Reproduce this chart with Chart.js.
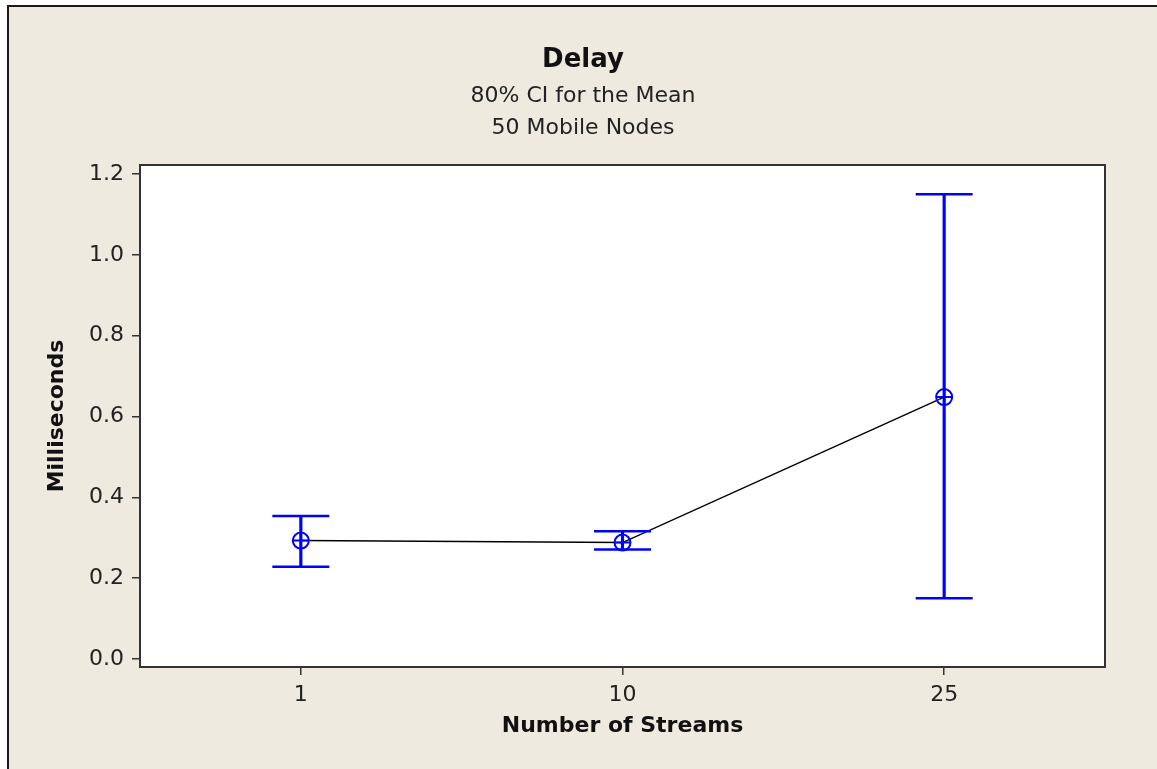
<!DOCTYPE html>
<html>
<head>
<meta charset="utf-8">
<script src="https://cdn.jsdelivr.net/npm/chart.js@4/dist/chart.umd.min.js"></script>
<style>
    body { margin: 0; background: #ffffff; }
    #wrap {
        position: absolute; left: 7px; top: 5px;
        width: 1150px; height: 764px;
        box-sizing: border-box;
        border-left: 2px solid #1a1a1a;
        border-top: 2px solid #1a1a1a;
        background: #eeeae0;
    }
    #chart { display: block; }
</style>
</head>
<body>
<div id="wrap"><canvas id="chart" width="1148" height="762"></canvas></div>
<script>
// Categories and the values
const streams = ['1', '10', '25'];
const meanDelay = [0.293, 0.288, 0.648];
const ciLower = [0.228, 0.271, 0.150];
const ciUpper = [0.354, 0.316, 1.150];
const yTicks = [0.0, 0.2, 0.4, 0.6, 0.8, 1.0, 1.2];

const blue = '#0000ff';
const fontName = '"DejaVu Sans", Verdana, sans-serif';

// Draw the box round the plot area
const frameBox = {
    id: 'frameBox',
    afterDraw(chart) {
        const { ctx, chartArea: a } = chart;
        ctx.save();
        ctx.strokeStyle = '#333333';
        ctx.lineWidth = 2;
        ctx.strokeRect(a.left, a.top, a.right - a.left, a.bottom - a.top);
        ctx.restore();
    }
};

// White plot area
const plotBg = {
    id: 'plotBg',
    beforeDraw(chart) {
        const { ctx, chartArea: a } = chart;
        ctx.save();
        ctx.fillStyle = '#ffffff';
        ctx.fillRect(a.left, a.top, a.right - a.left, a.bottom - a.top);
        ctx.restore();
    }
};

const ctx = document.getElementById('chart').getContext('2d');

new Chart(ctx, {
    type: 'line',
    data: {
        labels: streams,
        datasets: [
            {
                // line through the means
                label: 'mean line',
                data: meanDelay,
                borderColor: '#000000',
                borderWidth: 1.5,
                pointRadius: 0,
                tension: 0,
                order: 3
            },
            {
                // vertical part of the interval
                type: 'bar',
                label: 'ci',
                data: streams.map((s, i) => [ciLower[i], ciUpper[i]]),
                backgroundColor: blue,
                borderWidth: 0,
                barThickness: 2.5,
                order: 4
            },
            {
                label: 'upper cap',
                data: ciUpper,
                showLine: false,
                pointStyle: 'line',
                pointRadius: 28.5,
                pointBorderWidth: 2.5,
                pointBorderColor: blue,
                order: 2
            },
            {
                label: 'lower cap',
                data: ciLower,
                showLine: false,
                pointStyle: 'line',
                pointRadius: 28.5,
                pointBorderWidth: 2.5,
                pointBorderColor: blue,
                order: 2
            },
            {
                label: 'mean circle',
                data: meanDelay,
                showLine: false,
                pointStyle: 'circle',
                pointRadius: 8,
                pointBorderWidth: 2,
                pointBorderColor: blue,
                pointBackgroundColor: 'rgba(0,0,0,0)',
                order: 1
            },
            {
                label: 'mean cross',
                data: meanDelay,
                showLine: false,
                pointStyle: 'cross',
                pointRadius: 8,
                pointBorderWidth: 2,
                pointBorderColor: blue,
                order: 1
            }
        ]
    },
    options: {
        responsive: false,
        animation: false,
        layout: { padding: 0 },
        plugins: {
            legend: { display: false },
            tooltip: { enabled: false },
            title: {
                display: true,
                text: 'Delay',
                color: '#111111',
                font: { family: fontName, size: 26, weight: 'bold', lineHeight: 1.2 },
                padding: { top: 37.4, bottom: 4.4 }
            },
            subtitle: {
                display: true,
                text: ['80% CI for the Mean', '50 Mobile Nodes'],
                color: '#222222',
                font: { family: fontName, size: 22, lineHeight: 32 / 22 },
                padding: { top: 0, bottom: 21 }
            }
        },
        scales: {
            x: {
                offset: true,
                afterFit(scale) { scale.height = 102; },
                grid: {
                    offset: false,
                    drawOnChartArea: false,
                    tickLength: 8,
                    color: '#333333',
                    lineWidth: 1.5
                },
                border: { display: true, color: '#333333', width: 2 },
                ticks: {
                    color: '#222222',
                    padding: 7,
                    font: { family: fontName, size: 22 }
                },
                title: {
                    display: true,
                    text: 'Number of Streams',
                    color: '#111111',
                    font: { family: fontName, size: 22, weight: 'bold', lineHeight: 1.2 },
                    padding: { top: 0, bottom: 30 }
                }
            },
            y: {
                min: -0.0198,
                max: 1.2223,
                afterFit(scale) { scale.width = 131; },
                afterBuildTicks(scale) {
                    scale.ticks = yTicks.map(v => ({ value: v }));
                },
                grid: {
                    drawOnChartArea: false,
                    tickLength: 8,
                    color: '#333333',
                    lineWidth: 1.5
                },
                border: { display: true, color: '#333333', width: 2 },
                ticks: {
                    color: '#222222',
                    padding: 8,
                    font: { family: fontName, size: 22 },
                    callback: v => Number(v).toFixed(1)
                },
                title: {
                    display: true,
                    text: 'Milliseconds',
                    color: '#111111',
                    font: { family: fontName, size: 22, weight: 'bold', lineHeight: 1.2 },
                    padding: { top: 35, bottom: 0 }
                }
            },
            // empty right-hand axis: keeps the margin right of the plot
            // while the titles stay centred on the whole canvas
            yRight: {
                position: 'right',
                display: true,
                afterFit(scale) { scale.width = 52; },
                grid: { display: false },
                border: { display: false },
                ticks: { display: false }
            }
        }
    },
    plugins: [plotBg, frameBox]
});
</script>
</body>
</html>
